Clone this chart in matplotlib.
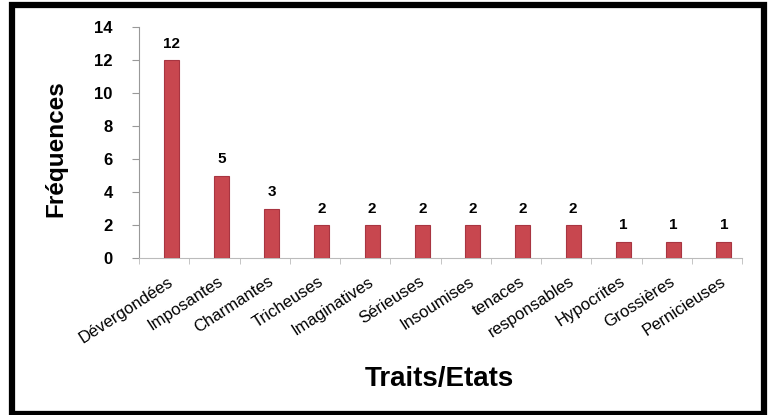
import matplotlib
matplotlib.use("Agg")
import matplotlib.pyplot as plt
from matplotlib.patches import Rectangle
import numpy as np

categories = ["Dévergondées", "Imposantes", "Charmantes", "Tricheuses", "Imaginatives",
              "Sérieuses", "Insoumises", "tenaces", "responsables", "Hypocrites",
              "Grossières", "Pernicieuses"]
values = [12, 5, 3, 2, 2, 2, 2, 2, 2, 1, 1, 1]
yticks = [0, 2, 4, 6, 8, 10, 12, 14]

plt.rcParams['font.family'] = ['Liberation Sans', 'DejaVu Sans']

fig = plt.figure(figsize=(7.68, 4.15), dpi=100)
ax = fig.add_axes([139/768, 1-258/415, (742-139)/768, (258-27)/415])

x = np.arange(len(categories))
shift = 0.14
ax.bar(x + shift, values, width=0.3, color="#C8474F", edgecolor="#A83541",
       linewidth=0.8, zorder=3)
for xi, v in zip(x, values):
    ax.text(xi + shift, v + 0.55, str(v), ha="center", va="bottom", fontsize=11,
            fontweight="bold")

ax.set_xlim(-0.5, len(categories) - 0.5)
ax.set_ylim(0, 14)
ax.set_yticks(yticks)
ax.set_yticklabels([str(t) for t in yticks], fontsize=12, fontweight="bold")
ax.set_xticks(x + shift)
ax.set_xticklabels(categories, rotation=33, ha="right", va="center",
                   rotation_mode="anchor", fontsize=12)
ax.tick_params(axis="x", length=0, pad=16)
ax.set_xticks(np.arange(-0.5, len(categories), 1), minor=True)
ax.tick_params(axis="x", which="minor", length=4, color="#BBBBBB", direction="out")
ax.tick_params(axis="y", length=5, color="#999999", pad=14)

for s in ["top", "right"]:
    ax.spines[s].set_visible(False)
ax.spines["left"].set_color("#999999")
ax.spines["bottom"].set_color("#BBBBBB")

fig.text(56/768, 1 - 149/415, "Fréquences", rotation=90, ha="center", va="center",
         fontsize=17.5, fontweight="bold")
fig.text(439/768, 1 - 379/415, "Traits/Etats", ha="center", va="center",
         fontsize=20, fontweight="bold")

fig.patches.append(Rectangle((11.5/768, 1.5/415), (763.5-11.5)/768, (409.5-1.5)/415,
                             transform=fig.transFigure, fill=False, edgecolor="black",
                             linewidth=4.5, zorder=10))

fig.savefig("out.png", dpi=100)
